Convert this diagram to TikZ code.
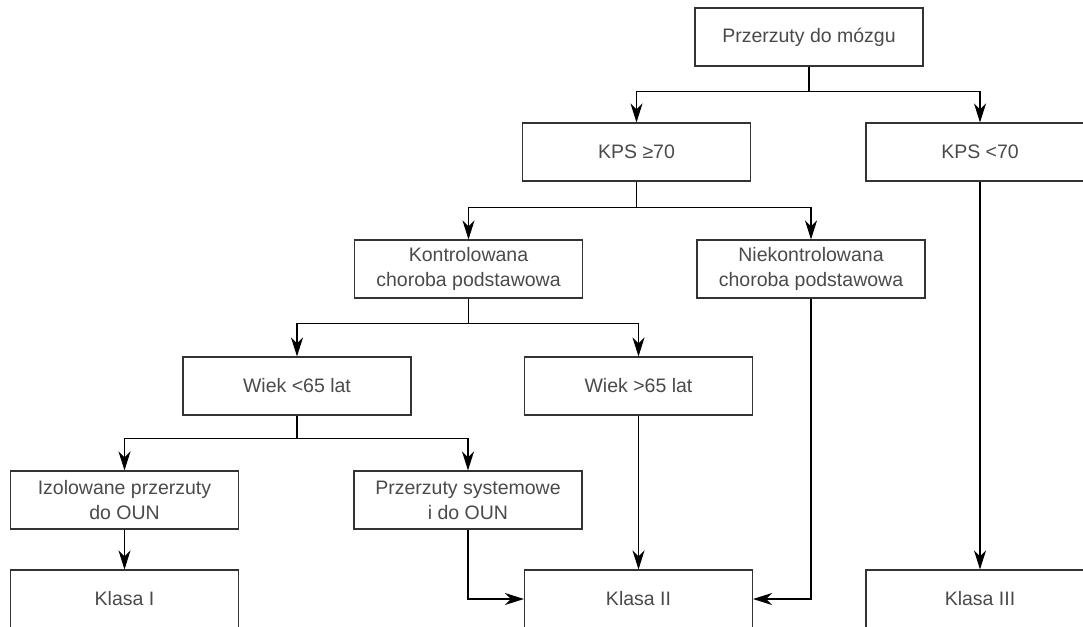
\documentclass[tikz,border=0pt]{standalone}
\usepackage{fontspec}
\setmainfont{Liberation Sans}
\usetikzlibrary{arrows.meta}
\definecolor{txt}{HTML}{4A4A4A}
\definecolor{brd}{HTML}{333333}
\tikzset{
  box/.style={draw=brd, line width=1.1pt, minimum width=228pt, minimum height=58pt, inner sep=0pt,
    text=txt, align=center, font=\fontsize{19.5}{25}\selectfont},
  arr/.style={line width=1.1pt, -{Stealth[length=19pt,width=12pt,inset=6pt]}},
  ln/.style={line width=1.1pt}
}
\begin{document}
\begin{tikzpicture}[x=1pt,y=-1pt]
\useasboundingbox (0,0) rectangle (1083,626);
\clip (0,0) rectangle (1083,626);
\node[box] (top) at (809,37) {Przerzuty do mózgu};
\node[box] (kps1) at (636.5,152) {KPS ≥70};
\node[box] (kps2) at (980,152) {KPS <70};
\node[box] (kontr) at (468.5,269) {Kontrolowana\\choroba podstawowa};
\node[box] (niek) at (811,269) {Niekontrolowana\\choroba podstawowa};
\node[box] (w1) at (297,386) {Wiek <65 lat};
\node[box] (w2) at (638.5,386) {Wiek >65 lat};
\node[box] (izol) at (124.5,500) {Izolowane przerzuty\\do OUN};
\node[box] (sys) at (468,500) {Przerzuty systemowe\\i do OUN};
\node[box] (k1) at (124.5,599) {Klasa I};
\node[box] (k2) at (638.5,599) {Klasa II};
\node[box] (k3) at (980,599) {Klasa III};
\draw[ln] (top.south) -- ++(0,25) coordinate (b1);
\draw[arr] (b1) -| (kps1.north);
\draw[arr] (b1) -| (kps2.north);
\draw[ln] (kps1.south) -- ++(0,26) coordinate (b2);
\draw[arr] (b2) -| (kontr.north);
\draw[arr] (b2) -| (niek.north);
\draw[ln] (kontr.south) -- ++(0,25) coordinate (b3);
\draw[arr] (b3) -| (w1.north);
\draw[arr] (b3) -| (w2.north);
\draw[ln] (w1.south) -- ++(0,23) coordinate (b4);
\draw[arr] (b4) -| (izol.north);
\draw[arr] (b4) -| (sys.north);
\draw[arr] (izol.south) -- (k1.north);
\draw[arr] (w2.south) -- (k2.north);
\draw[arr] (kps2.south) -- (k3.north);
\draw[arr] (sys.south) |- (k2.west);
\draw[arr] (niek.south) |- (k2.east);
\end{tikzpicture}
\end{document}
